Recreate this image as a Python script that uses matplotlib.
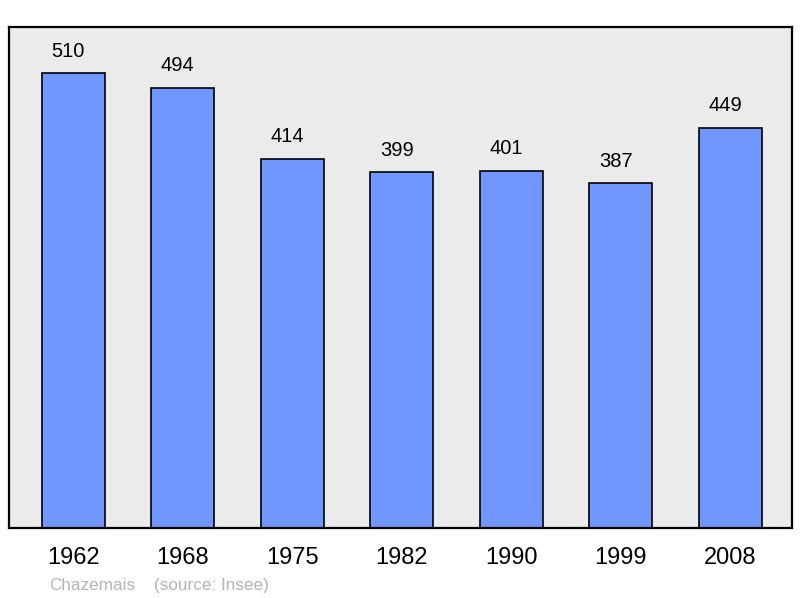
import matplotlib.pyplot as plt

# DATA
years = ['1962', '1968', '1975', '1982', '1990', '1999', '2008']
population = [510, 494, 414, 399, 401, 387, 449]
commune = 'Chazemais'
source = '(source: Insee)'

# STYLE
COLOR_BAR = '#7096ff'
COLOR_BG = '#ebebeb'
COLOR_FOOT = '#b4b4b4'

plt.rcParams['font.family'] = ['Liberation Sans', 'DejaVu Sans']

fig = plt.figure(figsize=(8, 5.98), dpi=100)
ax = fig.add_axes([9 / 800, 1 - 528 / 598, 783 / 800, 501 / 598])
ax.set_facecolor(COLOR_BG)

x = list(range(len(years)))
ax.bar(x, population, width=0.575, color=COLOR_BAR, edgecolor='black', linewidth=1.2, zorder=2)

for xi, v in zip(x, population):
    ax.annotate(str(v), (xi, v), xytext=(-3.5, 9), textcoords='offset points',
                ha='center', va='bottom', fontsize=14.5)

ax.set_xlim(-0.585, 6.565)
ax.set_ylim(0, 562)
ax.set_yticks([])
ax.set_xticks(x)
ax.set_xticklabels(years, fontsize=17)
ax.tick_params(axis='x', length=0, pad=13.5)
for s in ax.spines.values():
    s.set_linewidth(1.6)

fig.text(49 / 800, 1 - 590 / 598, commune, fontsize=12.3, color=COLOR_FOOT)
fig.text(154 / 800, 1 - 590 / 598, source, fontsize=12.3, color=COLOR_FOOT)

fig.savefig('out.png', dpi=100)
